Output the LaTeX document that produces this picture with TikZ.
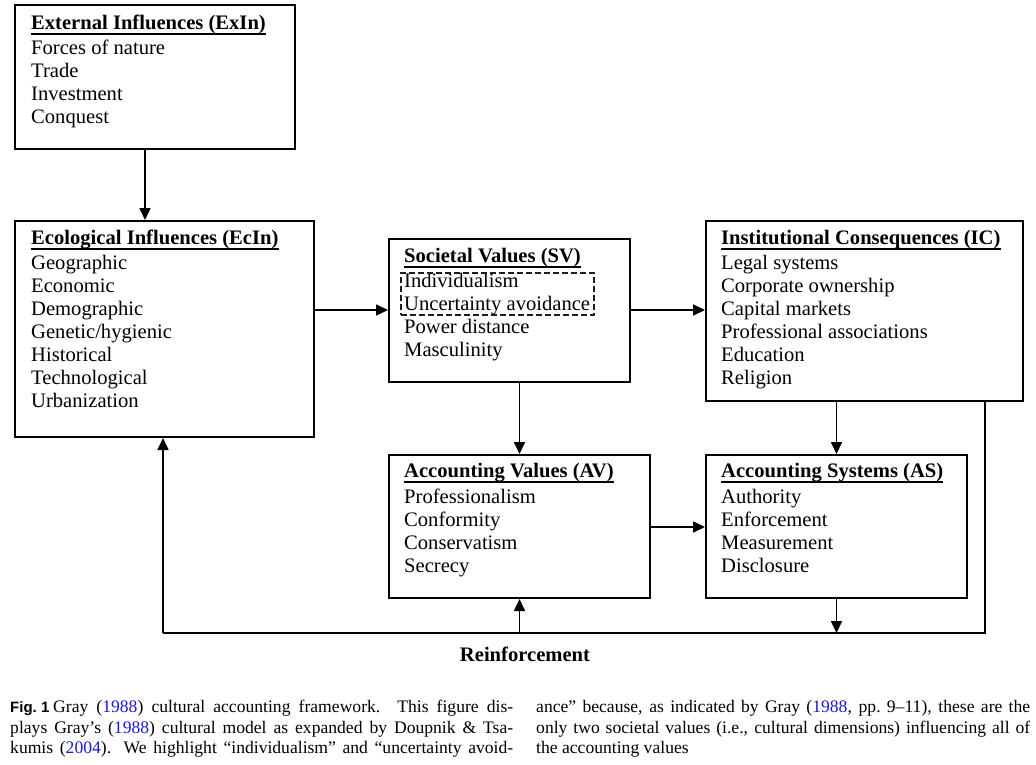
\documentclass[tikz,border=0pt]{standalone}
\usepackage{fontspec}
\setmainfont{Liberation Serif}
\newfontfamily\capsans{Liberation Sans}
\usetikzlibrary{arrows.meta}
\definecolor{capblue}{rgb}{0.1,0.1,0.85}
\definecolor{dashcol}{rgb}{0.08,0.12,0.18}
\begin{document}
\begin{tikzpicture}[x=1pt,y=-1pt,
  box/.style={draw, line width=2pt, anchor=north west, inner sep=0pt},
  txt/.style={anchor=base west, inner sep=0pt, font=\fontsize{20.6}{23}\selectfont},
  ttl/.style={anchor=base west, inner sep=0pt, font=\fontsize{20.6}{23}\selectfont\bfseries},
  uline/.style={line width=2pt},
  conn/.style={line width=1.7pt},
  arr/.style={line width=1.7pt, -{Triangle[length=12pt,width=11pt]}},
  dashbox/.style={draw=dashcol, line width=1.8pt, dash pattern=on 6pt off 3pt, anchor=north west, inner sep=0pt},
  captxt/.style={anchor=base west, inner sep=0pt, font=\fontsize{17.6}{21}\selectfont}
]
\useasboundingbox (0,0) rectangle (1036,764);

% boxes
\node[box, minimum width=280pt, minimum height=144pt] (exin) at (14,4) {};
\node[box, minimum width=299pt, minimum height=216pt] (ecin) at (14,220) {};
\node[box, minimum width=241pt, minimum height=143pt] (sv) at (388,238) {};
\node[box, minimum width=317pt, minimum height=180pt] (ic) at (705,220) {};
\node[box, minimum width=261pt, minimum height=143pt] (av) at (388,454) {};
\node[box, minimum width=261pt, minimum height=143pt] (asys) at (705,454) {};

% ExIn
\node[ttl] (exinT) at (31,29) {External Influences (ExIn)};
\draw[uline] ([yshift=-4.5pt]exinT.base west) -- ([yshift=-4.5pt]exinT.base east);
\foreach \t [count=\i from 0] in {Forces of nature, Trade, Investment, Conquest}
  \node[txt] (exin-\i) at (31,54+23*\i) {\t};

% EcIn
\node[ttl] (ecinT) at (31,244) {Ecological Influences (EcIn)};
\draw[uline] ([yshift=-4.5pt]ecinT.base west) -- ([yshift=-4.5pt]ecinT.base east);
\foreach \t [count=\i from 0] in {Geographic, Economic, Demographic, Genetic/hygienic, Historical, Technological, Urbanization}
  \node[txt] (ecin-\i) at (31,269+23*\i) {\t};

% SV
\node[ttl] (svT) at (404,262) {Societal Values (SV)};
\draw[uline] ([yshift=-4.5pt]svT.base west) -- ([yshift=-4.5pt]svT.base east);
\foreach \t [count=\i from 0] in {Individualism, Uncertainty avoidance, Power distance, Masculinity}
  \node[txt] (sv-\i) at (404,287+23*\i) {\t};
\node[dashbox, minimum width=193pt, minimum height=42pt] (hl) at (400,272) {};

% IC
\node[ttl] (icT) at (721,244) {Institutional Consequences (IC)};
\draw[uline] ([yshift=-4.5pt]icT.base west) -- ([yshift=-4.5pt]icT.base east);
\foreach \t [count=\i from 0] in {Legal systems, Corporate ownership, Capital markets, Professional associations, Education, Religion}
  \node[txt] (ic-\i) at (721,269+23*\i) {\t};

% AV
\node[ttl] (avT) at (404,477) {Accounting Values (AV)};
\draw[uline] ([yshift=-4.5pt]avT.base west) -- ([yshift=-4.5pt]avT.base east);
\foreach \t [count=\i from 0] in {Professionalism, Conformity, Conservatism, Secrecy}
  \node[txt] (av-\i) at (404,503+23*\i) {\t};

% AS
\node[ttl] (asT) at (721,477) {Accounting Systems (AS)};
\draw[uline] ([yshift=-4.5pt]asT.base west) -- ([yshift=-4.5pt]asT.base east);
\foreach \t [count=\i from 0] in {Authority, Enforcement, Measurement, Disclosure}
  \node[txt] (as-\i) at (721,503+23*\i) {\t};

% connectors
\coordinate (loopR) at (985,633);
\coordinate (loopL) at (163,633);
\draw[arr] (exin.south -| 145,0) -- (ecin.north -| 145,0);
\draw[arr] (ecin.east |- 0,310) -- (sv.west |- 0,310);
\draw[arr] (sv.east |- 0,310) -- (ic.west |- 0,310);
\draw[arr] (sv.south -| av.north) -- (av.north);
\draw[arr] (ic.south -| asys.north) -- (asys.north);
\draw[arr] (av.east |- 0,527) -- (asys.west |- 0,527);
\draw[conn] (ic.south -| loopR) -- (loopR) -- (loopL);
\draw[arr] (loopL) -- (ecin.south -| loopL);
\draw[arr] (av.south |- loopL) -- (av.south);
\draw[arr] (asys.south) -- (asys.south |- loopL);
\node[anchor=base, inner sep=0pt, font=\fontsize{20.6}{23}\selectfont\bfseries] (reinf) at (525,661) {Reinforcement};

% caption
\node[anchor=base west, inner sep=0pt, font=\fontsize{15}{21}\selectfont\capsans\bfseries] (fig) at (10,712) {Fig.~1};
\node[captxt] (c1) at (53,712) {\makebox[460pt][s]{Gray (\textcolor{capblue}{1988}) cultural accounting framework. This figure dis-}};
\node[captxt] (c2) at (10,733) {\makebox[503pt][s]{plays Gray’s (\textcolor{capblue}{1988}) cultural model as expanded by Doupnik \& Tsa-}};
\node[captxt] (c3) at (10,753) {\makebox[503pt][s]{kumis (\textcolor{capblue}{2004}). We highlight “individualism” and “uncertainty avoid-}};
\node[captxt] (c4) at (536,712) {\makebox[494pt][s]{ance” because, as indicated by Gray (\textcolor{capblue}{1988}, pp.~9–11), these are the}};
\node[captxt] (c5) at (536,733) {\makebox[494pt][s]{only two societal values (i.e., cultural dimensions) influencing all of}};
\node[captxt] (c6) at (536,753) {the accounting values};
\end{tikzpicture}
\end{document}
